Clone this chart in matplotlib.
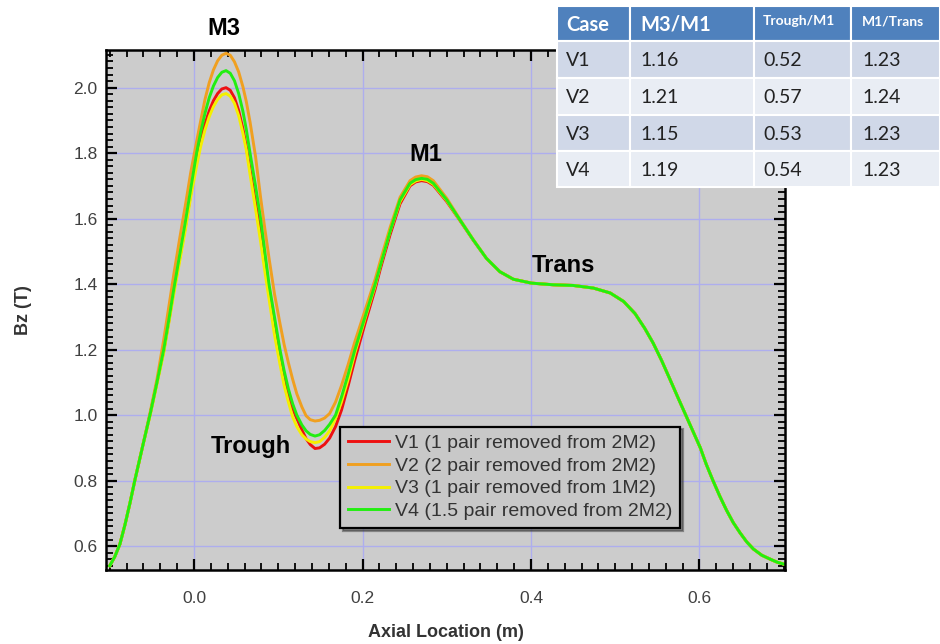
import numpy as np
import matplotlib

matplotlib.use('Agg')
import matplotlib.pyplot as plt
from matplotlib.ticker import MultipleLocator
from matplotlib.patches import Rectangle

# axial positions (m) shared by all four field profiles
axial = [-0.100, -0.094, -0.088, -0.082, -0.076, -0.070, -0.061, -0.052, -0.044, -0.036,
         -0.030, -0.024, -0.017, -0.010, -0.004,
         0.003, 0.008, 0.013, 0.018, 0.023, 0.028, 0.033, 0.038, 0.043, 0.048,
         0.053, 0.058, 0.062, 0.0665, 0.073,
         0.079, 0.084, 0.089, 0.0955, 0.102, 0.107, 0.112, 0.117, 0.122, 0.128,
         0.133, 0.138, 0.1436, 0.149, 0.155,
         0.161, 0.168, 0.175, 0.183, 0.191, 0.203, 0.215, 0.221, 0.2326, 0.2445,
         0.2564, 0.263, 0.270, 0.277, 0.284,
         0.300, 0.3157, 0.3315, 0.347, 0.363, 0.379, 0.4008, 0.4265, 0.450, 0.474,
         0.494, 0.510, 0.5235, 0.535, 0.545,
         0.555, 0.565, 0.574, 0.583, 0.592, 0.601, 0.608, 0.616, 0.624, 0.632,
         0.640, 0.648, 0.656, 0.664, 0.674, 0.684, 0.692, 0.700]

# the four profiles coincide past the M1 peak (Trans plateau and fall-off)
bz_tail = [1.479, 1.438, 1.415, 1.403, 1.398, 1.396, 1.388,
           1.373, 1.347, 1.310, 1.265, 1.220,
           1.167, 1.109, 1.056, 1.004, 0.952, 0.900, 0.850, 0.800, 0.753, 0.710,
           0.672, 0.641, 0.613, 0.591, 0.572, 0.560, 0.551, 0.545]

bz_v1 = [0.540, 0.568, 0.606, 0.665, 0.732, 0.804, 0.905, 1.004, 1.100, 1.195,
         1.285, 1.380, 1.480, 1.580, 1.675,
         1.780, 1.841, 1.889, 1.929, 1.960, 1.982, 1.996, 2.000, 1.992, 1.969,
         1.930, 1.875, 1.820, 1.750, 1.650,
         1.555, 1.465, 1.375, 1.280, 1.175, 1.110, 1.055, 1.020, 0.990, 0.955,
         0.928, 0.910, 0.898, 0.900, 0.911,
         0.930, 0.965, 1.015, 1.090, 1.170, 1.280, 1.385, 1.445, 1.550, 1.645,
         1.700, 1.712, 1.716, 1.713, 1.702,
         1.652, 1.594, 1.534] + bz_tail

bz_v2 = [0.540, 0.568, 0.606, 0.665, 0.732, 0.804, 0.905, 1.010, 1.110, 1.230,
         1.330, 1.430, 1.540, 1.645, 1.740,
         1.835, 1.900, 1.964, 2.015, 2.054, 2.082, 2.099, 2.105, 2.099, 2.079,
         2.048, 2.003, 1.958, 1.895, 1.790,
         1.665, 1.570, 1.480, 1.370, 1.280, 1.215, 1.160, 1.110, 1.065, 1.025,
         0.998, 0.986, 0.982, 0.984, 0.991,
         1.005, 1.040, 1.090, 1.155, 1.225, 1.320, 1.415, 1.470, 1.572, 1.665,
         1.716, 1.727, 1.731, 1.728, 1.716,
         1.662, 1.598, 1.536] + bz_tail

bz_v3 = [0.540, 0.568, 0.606, 0.665, 0.732, 0.804, 0.905, 1.000, 1.095, 1.190,
         1.280, 1.370, 1.470, 1.570, 1.665,
         1.760, 1.822, 1.871, 1.911, 1.942, 1.964, 1.978, 1.982, 1.974, 1.952,
         1.914, 1.861, 1.810, 1.735, 1.630,
         1.530, 1.440, 1.355, 1.245, 1.155, 1.090, 1.040, 0.995, 0.965, 0.940,
         0.927, 0.919, 0.916, 0.919, 0.932,
         0.952, 0.990, 1.040, 1.110, 1.190, 1.295, 1.395, 1.455, 1.560, 1.652,
         1.704, 1.715, 1.720, 1.716, 1.705,
         1.655, 1.595, 1.535] + bz_tail

bz_v4 = [0.540, 0.568, 0.606, 0.665, 0.732, 0.804, 0.905, 1.004, 1.100, 1.200,
         1.290, 1.385, 1.490, 1.595, 1.690,
         1.800, 1.865, 1.922, 1.969, 2.005, 2.031, 2.047, 2.052, 2.044, 2.021,
         1.982, 1.928, 1.873, 1.800, 1.700,
         1.600, 1.500, 1.400, 1.300, 1.200, 1.135, 1.080, 1.035, 1.000, 0.970,
         0.952, 0.941, 0.936, 0.940, 0.953,
         0.972, 1.000, 1.055, 1.125, 1.200, 1.300, 1.400, 1.455, 1.560, 1.657,
         1.708, 1.719, 1.723, 1.720, 1.708,
         1.657, 1.596, 1.535] + bz_tail

series_labels = ['V1 (1 pair removed from 2M2)', 'V2 (2 pair removed from 2M2)',
                 'V3 (1 pair removed from 1M2)', 'V4 (1.5 pair removed from 2M2)']
series_colors = ['#ee1111', '#f0a020', '#f4f000', '#22ee11']

# feature labels placed on the curves
feature_names = ['M3', 'M1', 'Trans', 'Trough']
feature_x = [0.036, 0.275, 0.438, 0.068]
feature_y = [2.182, 1.797, 1.456, 0.904]

# ratio table
table_header = ['Case', 'M3/M1', 'Trough/M1', 'M1/Trans']
table_cases = ['V1', 'V2', 'V3', 'V4']
m3_m1 = ['1.16', '1.21', '1.15', '1.19']
trough_m1 = ['0.52', '0.57', '0.53', '0.54']
m1_trans = ['1.23', '1.24', '1.23', '1.23']

fig = plt.figure(figsize=(9.4, 6.44), dpi=100)
ax = fig.add_axes([106 / 940, 74 / 644, 679 / 940, 520 / 644])
ax.set_facecolor('#cccccc')

for y, c, lab in zip([bz_v1, bz_v2, bz_v3, bz_v4], series_colors, series_labels):
    ax.plot(axial, y, color=c, lw=2.1, label=lab, solid_joinstyle='round')

ax.xaxis.set_major_locator(MultipleLocator(0.2))
ax.xaxis.set_minor_locator(MultipleLocator(0.02))
ax.yaxis.set_major_locator(MultipleLocator(0.2))
ax.yaxis.set_minor_locator(MultipleLocator(0.02))
ax.grid(True, which='major', color='#aeaeee', lw=1.0)
ax.set_axisbelow(True)
ax.tick_params(which='both', direction='in', top=True, right=True, color='black',
               labelsize=12.5, labelcolor='#404040')
ax.tick_params(axis='x', which='major', pad=15)
ax.tick_params(axis='y', which='major', pad=6)
ax.tick_params(which='major', length=8, width=1.6)
ax.tick_params(which='minor', length=5, width=1.3)
for sp in ax.spines.values():
    sp.set_linewidth(1.8)
ax.set_xticks([0.0, 0.2, 0.4, 0.6])
ax.set_xticklabels(['0.0', '0.2', '0.4', '0.6'], family='Liberation Sans')
ax.set_yticks([0.6, 0.8, 1.0, 1.2, 1.4, 1.6, 1.8, 2.0])
ax.set_yticklabels(['0.6', '0.8', '1.0', '1.2', '1.4', '1.6', '1.8', '2.0'], family='Liberation Sans')
ax.set_xlim(-0.1045, 0.7015)
ax.set_ylim(0.527, 2.115)

ax.set_xlabel('Axial Location (m)', fontsize=13, fontweight='bold', color='#333333',
              family='Liberation Sans', labelpad=13)
ax.set_ylabel('Bz (T)', fontsize=13, fontweight='bold', color='#333333',
              family='Liberation Sans', labelpad=30)

for name, fx, fy in zip(feature_names, feature_x, feature_y):
    ax.text(fx, fy, name, ha='center', va='center', fontsize=17, fontweight='bold',
            family='Liberation Sans', clip_on=False)

leg = ax.legend(loc='lower left', bbox_to_anchor=(0.345, 0.081), fancybox=False, shadow=True,
                framealpha=1, facecolor='#c8c8c8', edgecolor='black', handlelength=2.1,
                prop={'family': 'Liberation Sans', 'size': 14}, labelspacing=0.26,
                borderpad=0.4, handletextpad=0.3, borderaxespad=0)
leg.get_frame().set_linewidth(1.6)
for t in leg.get_texts():
    t.set_color('#333333')

# ratio table drawn in pixel coordinates on top of the chart
tax = fig.add_axes([0, 0, 1, 1], zorder=5)
tax.set_xlim(0, 940)
tax.set_ylim(644, 0)
tax.axis('off')
col_edges = [557, 630, 754, 851, 940]
row_edges = [6, 41, 78, 115, 151, 187]
col_text_x = [566, 640, 763, 862]
for r in range(5):
    if r == 0:
        fc = '#4f81bd'
    elif r % 2 == 1:
        fc = '#d0d8e8'
    else:
        fc = '#e9edf4'
    for c in range(4):
        tax.add_patch(Rectangle((col_edges[c], row_edges[r]), col_edges[c + 1] - col_edges[c],
                                row_edges[r + 1] - row_edges[r], facecolor=fc,
                                edgecolor='white', lw=1.5))
header_sizes = [14.5, 14.5, 10, 10]
for c, txt in enumerate(table_header):
    ty = (row_edges[0] + row_edges[1]) / 2 + 1 if header_sizes[c] > 12 else 21
    tax.text(col_text_x[c], ty, txt, color='white', fontweight='bold', fontsize=header_sizes[c],
             family='Lato', ha='left', va='center')
for r, row in enumerate(zip(table_cases, m3_m1, trough_m1, m1_trans)):
    cy = (row_edges[r + 1] + row_edges[r + 2]) / 2 + 1
    for c, txt in enumerate(row):
        tax.text(col_text_x[c], cy, txt, color='#222222', fontsize=14, family='Lato',
                 ha='left', va='center')

plt.savefig('out.png', dpi=100)
plt.close()
